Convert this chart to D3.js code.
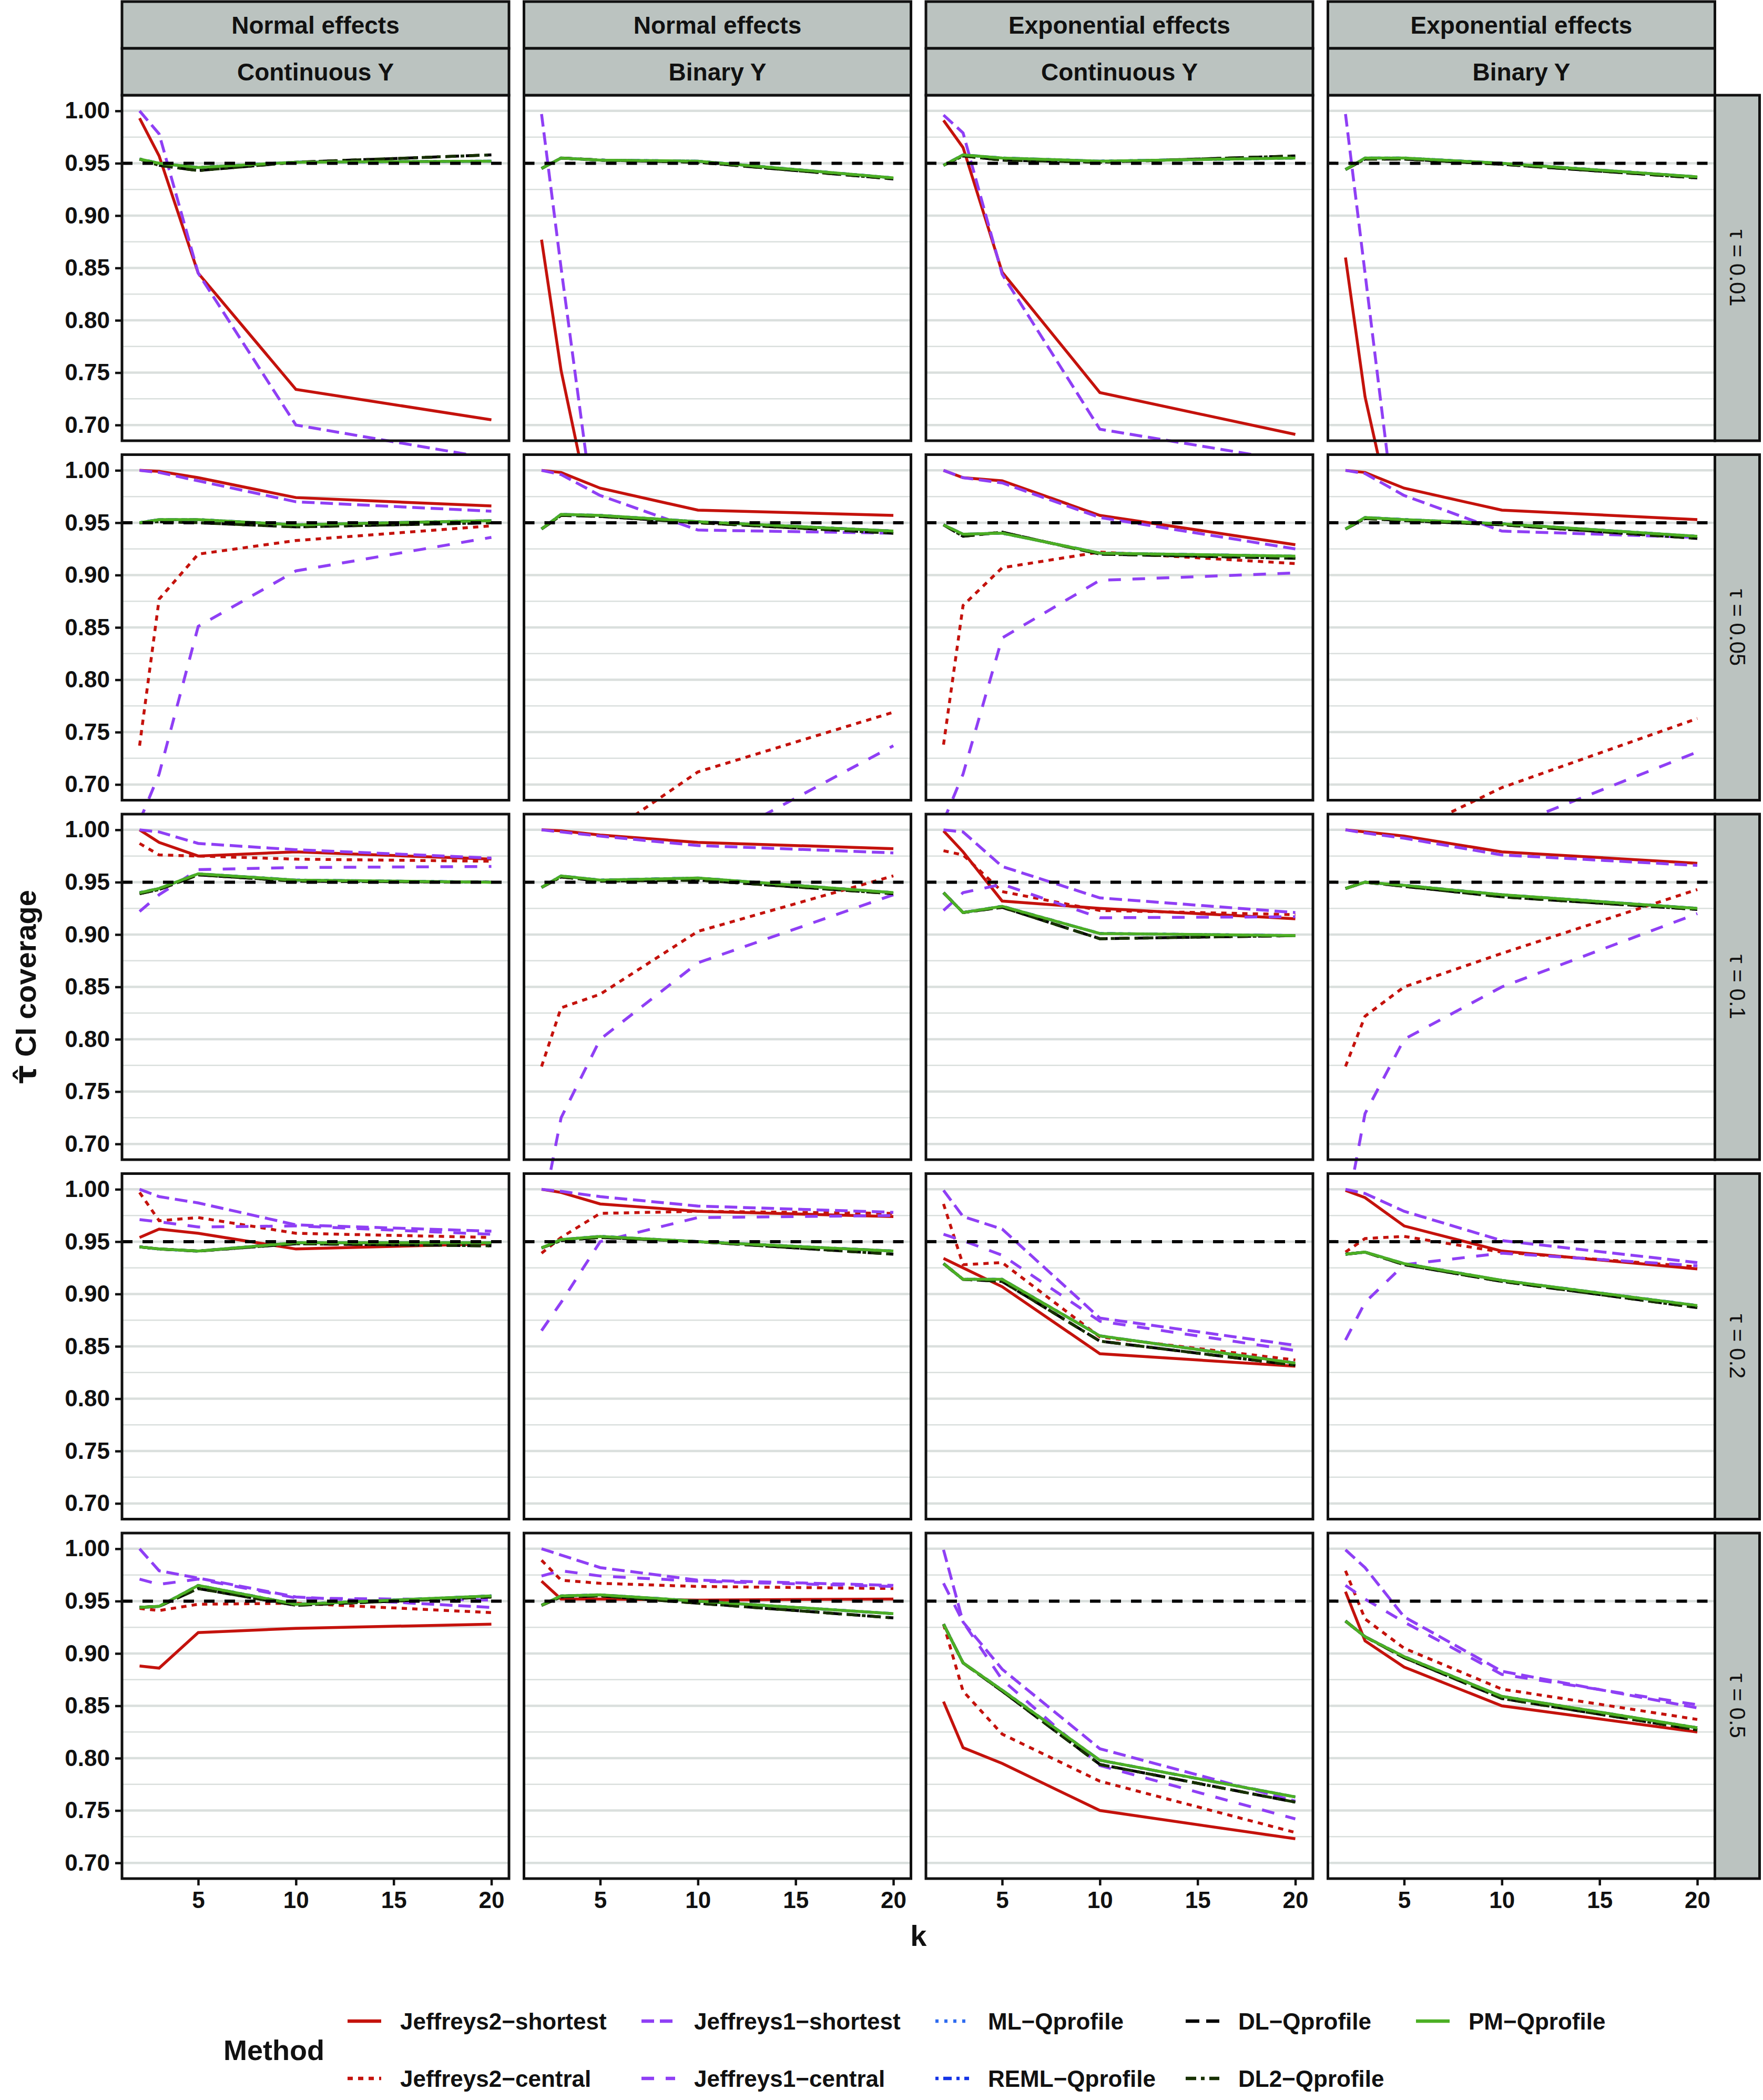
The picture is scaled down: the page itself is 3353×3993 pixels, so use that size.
<!DOCTYPE html>
<html>
<head>
<meta charset="utf-8">
<script src="https://cdn.jsdelivr.net/npm/d3@7"></script>
<style>
    body { margin: 0; background: #fff; }
    text { font-family: "Liberation Sans Narrow", "Arial Narrow", "Liberation Sans", Arial, sans-serif; font-weight: bold; fill: #111; }
</style>
</head>
<body>
<svg id="chart" width="3353" height="3993"></svg>
<script>
// ---- data ----
const kValues = [2, 3, 5, 10, 20]
const effectLabels = ["Normal effects", "Normal effects", "Exponential effects", "Exponential effects"]
const outcomeLabels = ["Continuous Y", "Binary Y", "Continuous Y", "Binary Y"]
const tauLabels = ["τ = 0.01", "τ = 0.05", "τ = 0.1", "τ = 0.2", "τ = 0.5"]
const methods = ["Jeffreys2−shortest", "Jeffreys2−central", "Jeffreys1−shortest", "Jeffreys1−central",
    "ML−Qprofile", "REML−Qprofile", "DL−Qprofile", "DL2−Qprofile", "PM−Qprofile"]
const yMajor = [0.70, 0.75, 0.80, 0.85, 0.90, 0.95, 1.00]
const yMinor = [0.725, 0.775, 0.825, 0.875, 0.925, 0.975]
const xTicks = [5, 10, 15, 20]
const nominal = 0.95

// each array: rows = tau, then the 4 columns, then one value per k (null = off the chart)
const jeffreys2Shortest = [
    [[0.993, 0.957, 0.845, 0.734, 0.705], [0.877, 0.752, 0.575, null, null], [0.991, 0.965, 0.846, 0.731, 0.691], [0.860, 0.727, 0.560, null, null]],
    [[1.000, 0.999, 0.993, 0.974, 0.966], [1.000, 0.998, 0.983, 0.962, 0.957], [1.000, 0.993, 0.990, 0.957, 0.929], [1.000, 0.998, 0.983, 0.962, 0.953]],
    [[1.000, 0.988, 0.975, 0.979, 0.972], [1.000, 0.999, 0.995, 0.988, 0.982], [0.999, 0.979, 0.932, 0.925, 0.915], [1.000, 0.998, 0.994, 0.979, 0.968]],
    [[0.954, 0.962, 0.958, 0.943, 0.948], [1.000, 0.997, 0.986, 0.979, 0.974], [0.934, 0.925, 0.907, 0.843, 0.831], [0.999, 0.992, 0.965, 0.941, 0.924]],
    [[0.888, 0.886, 0.920, 0.924, 0.928], [0.969, 0.952, 0.952, 0.951, 0.952], [0.854, 0.810, 0.795, 0.750, 0.723], [0.959, 0.912, 0.887, 0.850, 0.825]]
]
const jeffreys2Central = [
    [[null, null, null, null, null], [null, null, null, null, null], [null, null, null, null, null], [null, null, null, null, null]],
    [[0.737, 0.877, 0.920, 0.933, 0.947], [null, null, 0.648, 0.712, 0.769], [0.738, 0.871, 0.907, 0.922, 0.911], [null, null, 0.652, 0.697, 0.763]],
    [[0.987, 0.976, 0.975, 0.972, 0.970], [0.774, 0.830, 0.843, 0.903, 0.956], [0.980, 0.976, 0.941, 0.923, 0.919], [0.774, 0.822, 0.850, 0.882, 0.943]],
    [[0.997, 0.970, 0.973, 0.958, 0.954], [0.939, 0.954, 0.977, 0.979, 0.977], [0.986, 0.928, 0.930, 0.859, 0.837], [0.940, 0.953, 0.955, 0.940, 0.926]],
    [[0.943, 0.941, 0.947, 0.948, 0.939], [0.989, 0.970, 0.967, 0.964, 0.962], [0.928, 0.864, 0.823, 0.778, 0.729], [0.979, 0.933, 0.905, 0.866, 0.837]]
]
const jeffreys1Shortest = [
    [[1.000, 0.978, 0.845, 0.700, 0.668], [0.997, 0.850, 0.570, null, null], [0.996, 0.979, 0.844, 0.696, 0.665], [0.997, 0.845, 0.540, null, null]],
    [[1.000, 0.998, 0.990, 0.970, 0.961], [1.000, 0.996, 0.976, 0.943, 0.940], [1.000, 0.993, 0.988, 0.955, 0.925], [1.000, 0.997, 0.976, 0.942, 0.936]],
    [[1.000, 0.998, 0.987, 0.981, 0.973], [1.000, 0.998, 0.994, 0.985, 0.978], [1.000, 0.998, 0.965, 0.935, 0.921], [1.000, 0.997, 0.992, 0.976, 0.966]],
    [[1.000, 0.993, 0.987, 0.966, 0.960], [1.000, 0.998, 0.993, 0.984, 0.978], [0.999, 0.974, 0.962, 0.877, 0.851], [1.000, 0.996, 0.979, 0.951, 0.930]],
    [[1.000, 0.979, 0.972, 0.954, 0.944], [1.000, 0.994, 0.982, 0.970, 0.965], [0.999, 0.930, 0.885, 0.809, 0.759], [0.999, 0.982, 0.935, 0.883, 0.848]]
]
const jeffreys1Central = [
    [[null, null, null, null, null], [null, null, null, null, null], [null, null, null, null, null], [null, null, null, null, null]],
    [[0.665, 0.710, 0.851, 0.904, 0.936], [null, null, null, 0.637, 0.737], [0.665, 0.710, 0.840, 0.895, 0.902], [null, null, null, 0.657, 0.731]],
    [[0.922, 0.938, 0.962, 0.964, 0.965], [0.630, 0.725, 0.800, 0.873, 0.938], [0.923, 0.940, 0.948, 0.916, 0.917], [0.630, 0.729, 0.800, 0.850, 0.920]],
    [[0.971, 0.969, 0.964, 0.965, 0.957], [0.865, 0.892, 0.950, 0.973, 0.975], [0.957, 0.951, 0.937, 0.874, 0.846], [0.856, 0.892, 0.928, 0.939, 0.927]],
    [[0.971, 0.966, 0.971, 0.953, 0.951], [0.974, 0.979, 0.974, 0.969, 0.964], [0.967, 0.930, 0.875, 0.793, 0.742], [0.965, 0.952, 0.930, 0.880, 0.851]]
]
// the Q-profile lines sit on top of each other; ML/REML under PM, DL under DL2
const mlQprofile = [
    [[0.954, 0.950, 0.946, 0.951, 0.952], [0.945, 0.955, 0.953, 0.952, 0.936], [0.948, 0.958, 0.955, 0.952, 0.955], [0.944, 0.955, 0.955, 0.950, 0.937]],
    [[0.950, 0.953, 0.953, 0.948, 0.952], [0.944, 0.958, 0.957, 0.951, 0.942], [0.948, 0.939, 0.940, 0.921, 0.918], [0.944, 0.955, 0.953, 0.949, 0.937]],
    [[0.940, 0.944, 0.958, 0.952, 0.950], [0.945, 0.956, 0.952, 0.954, 0.940], [0.940, 0.921, 0.927, 0.901, 0.899], [0.944, 0.950, 0.947, 0.938, 0.925]],
    [[0.945, 0.943, 0.941, 0.949, 0.949], [0.944, 0.952, 0.955, 0.950, 0.941], [0.929, 0.914, 0.914, 0.860, 0.834], [0.938, 0.940, 0.929, 0.913, 0.889]],
    [[0.944, 0.945, 0.965, 0.947, 0.955], [0.946, 0.955, 0.956, 0.950, 0.938], [0.928, 0.891, 0.865, 0.798, 0.763], [0.931, 0.916, 0.897, 0.859, 0.829]]
]
const remlQprofile = [
    [[0.954, 0.950, 0.946, 0.951, 0.952], [0.945, 0.955, 0.953, 0.952, 0.936], [0.948, 0.958, 0.955, 0.952, 0.955], [0.944, 0.955, 0.955, 0.950, 0.937]],
    [[0.950, 0.953, 0.953, 0.948, 0.952], [0.944, 0.958, 0.957, 0.951, 0.942], [0.948, 0.939, 0.940, 0.921, 0.918], [0.944, 0.955, 0.953, 0.949, 0.937]],
    [[0.940, 0.944, 0.958, 0.952, 0.950], [0.945, 0.956, 0.952, 0.954, 0.940], [0.940, 0.921, 0.927, 0.901, 0.899], [0.944, 0.950, 0.947, 0.938, 0.925]],
    [[0.945, 0.943, 0.941, 0.949, 0.949], [0.944, 0.952, 0.955, 0.950, 0.941], [0.929, 0.914, 0.914, 0.860, 0.834], [0.938, 0.940, 0.929, 0.913, 0.889]],
    [[0.944, 0.945, 0.965, 0.947, 0.955], [0.946, 0.955, 0.956, 0.950, 0.938], [0.928, 0.891, 0.865, 0.798, 0.763], [0.931, 0.916, 0.897, 0.859, 0.829]]
]
const dlQprofile = [
    [[0.954, 0.948, 0.943, 0.951, 0.958], [0.945, 0.955, 0.953, 0.951, 0.935], [0.948, 0.957, 0.953, 0.951, 0.957], [0.944, 0.954, 0.954, 0.949, 0.936]],
    [[0.950, 0.951, 0.950, 0.946, 0.950], [0.944, 0.957, 0.956, 0.950, 0.940], [0.948, 0.937, 0.941, 0.920, 0.916], [0.944, 0.954, 0.952, 0.948, 0.935]],
    [[0.939, 0.943, 0.957, 0.951, 0.950], [0.945, 0.955, 0.951, 0.952, 0.939], [0.940, 0.921, 0.926, 0.896, 0.899], [0.944, 0.950, 0.946, 0.936, 0.924]],
    [[0.945, 0.943, 0.941, 0.948, 0.946], [0.944, 0.951, 0.954, 0.950, 0.938], [0.929, 0.914, 0.912, 0.855, 0.832], [0.938, 0.940, 0.928, 0.912, 0.887]],
    [[0.944, 0.945, 0.962, 0.946, 0.954], [0.946, 0.954, 0.955, 0.948, 0.934], [0.928, 0.891, 0.864, 0.794, 0.758], [0.931, 0.916, 0.896, 0.857, 0.827]]
]
const dl2Qprofile = [
    [[0.954, 0.948, 0.943, 0.951, 0.958], [0.945, 0.955, 0.953, 0.951, 0.935], [0.948, 0.957, 0.953, 0.951, 0.957], [0.944, 0.954, 0.954, 0.949, 0.936]],
    [[0.950, 0.951, 0.950, 0.946, 0.950], [0.944, 0.957, 0.956, 0.950, 0.940], [0.948, 0.937, 0.941, 0.920, 0.916], [0.944, 0.954, 0.952, 0.948, 0.935]],
    [[0.939, 0.943, 0.957, 0.951, 0.950], [0.945, 0.955, 0.951, 0.952, 0.939], [0.940, 0.921, 0.926, 0.896, 0.899], [0.944, 0.950, 0.946, 0.936, 0.924]],
    [[0.945, 0.943, 0.941, 0.948, 0.946], [0.944, 0.951, 0.954, 0.950, 0.938], [0.929, 0.914, 0.912, 0.855, 0.832], [0.938, 0.940, 0.928, 0.912, 0.887]],
    [[0.944, 0.945, 0.962, 0.946, 0.954], [0.946, 0.954, 0.955, 0.948, 0.934], [0.928, 0.891, 0.864, 0.794, 0.758], [0.931, 0.916, 0.896, 0.857, 0.827]]
]
const pmQprofile = [
    [[0.954, 0.950, 0.946, 0.951, 0.952], [0.945, 0.955, 0.953, 0.952, 0.936], [0.948, 0.958, 0.955, 0.952, 0.955], [0.944, 0.955, 0.955, 0.950, 0.937]],
    [[0.950, 0.953, 0.953, 0.948, 0.952], [0.944, 0.958, 0.957, 0.951, 0.942], [0.948, 0.939, 0.940, 0.921, 0.918], [0.944, 0.955, 0.953, 0.949, 0.937]],
    [[0.940, 0.944, 0.958, 0.952, 0.950], [0.945, 0.956, 0.952, 0.954, 0.940], [0.940, 0.921, 0.927, 0.901, 0.899], [0.944, 0.950, 0.947, 0.938, 0.925]],
    [[0.945, 0.943, 0.941, 0.949, 0.949], [0.944, 0.952, 0.955, 0.950, 0.941], [0.929, 0.914, 0.914, 0.860, 0.834], [0.938, 0.940, 0.929, 0.913, 0.889]],
    [[0.944, 0.945, 0.965, 0.947, 0.955], [0.946, 0.955, 0.956, 0.950, 0.938], [0.928, 0.891, 0.865, 0.798, 0.763], [0.931, 0.916, 0.897, 0.859, 0.829]]
]

// ---- styles ----
const methodValues = [jeffreys2Shortest, jeffreys2Central, jeffreys1Shortest, jeffreys1Central,
    mlQprofile, remlQprofile, dlQprofile, dl2Qprofile, pmQprofile]
const methodColors = ["#c4120c", "#c4120c", "#8f3ff5", "#8f3ff5", "#2f6cf0", "#1434e6", "#000000", "#173000", "#4caf24"]
const methodDash = [null, "10,10", "24,11", "24,22", "6,11", "6,9,16,9", "26,13", "20,9,7,9", null]
const lineWidth = 5.5

const svg = d3.select("#chart")
const panelW = 736, panelH = 657
const panelX = [232, 996.5, 1761, 2525.5]
const panelY = [181, 864.5, 1548, 2231.5, 2915]
const stripH = 89, sideStripW = 85
const gridColor = "#dadfdd", stripFill = "#bbc3c0"

const x = d3.scaleLinear().domain([1.1, 20.9]).range([0, panelW])
const y = d3.scaleLinear().domain([0.685, 1.015]).range([panelH, 0])

const line = d3.line()
    .defined(d => d[1] != null)
    .x(d => x(d[0]))
    .y(d => y(d[1]))

// panels in row order, lines not clipped (later panels cover what runs out the bottom)
tauLabels.forEach((tau, r) => {
    outcomeLabels.forEach((out, c) => {
        let g = svg.append("g").attr("transform", `translate(${panelX[c]},${panelY[r]})`)
        g.append("rect").attr("width", panelW).attr("height", panelH).attr("fill", "#fff")

        g.selectAll(".minor").data(yMinor).join("line")
            .attr("x1", 0).attr("x2", panelW)
            .attr("y1", d => y(d)).attr("y2", d => y(d))
            .attr("stroke", gridColor).attr("stroke-width", 2.5)
        g.selectAll(".major").data(yMajor).join("line")
            .attr("x1", 0).attr("x2", panelW)
            .attr("y1", d => y(d)).attr("y2", d => y(d))
            .attr("stroke", gridColor).attr("stroke-width", 4.5)

        methodValues.forEach((vals, m) => {
            let pts = kValues.map((k, i) => [k, vals[r][c][i]])
            g.append("path")
                .attr("d", line(pts))
                .attr("fill", "none")
                .attr("stroke", methodColors[m])
                .attr("stroke-width", lineWidth)
                .attr("stroke-dasharray", methodDash[m])
        })

        g.append("line")
            .attr("x1", 0).attr("x2", panelW)
            .attr("y1", y(nominal)).attr("y2", y(nominal))
            .attr("stroke", "#000").attr("stroke-width", 6)
            .attr("stroke-dasharray", "20,19")

        g.append("rect").attr("width", panelW).attr("height", panelH)
            .attr("fill", "none").attr("stroke", "#111").attr("stroke-width", 5)
    })
})

// top strips
outcomeLabels.forEach((out, c) => {
    let g = svg.append("g").attr("transform", `translate(${panelX[c]},0)`)
    g.append("rect").attr("y", 3).attr("width", panelW).attr("height", stripH)
        .attr("fill", stripFill).attr("stroke", "#111").attr("stroke-width", 5)
    g.append("rect").attr("y", 3 + stripH).attr("width", panelW).attr("height", stripH)
        .attr("fill", stripFill).attr("stroke", "#111").attr("stroke-width", 5)
    g.append("text").attr("x", panelW / 2).attr("y", 3 + stripH / 2)
        .attr("text-anchor", "middle").attr("dominant-baseline", "central")
        .attr("font-size", 46).text(effectLabels[c])
    g.append("text").attr("x", panelW / 2).attr("y", 3 + stripH * 1.5)
        .attr("text-anchor", "middle").attr("dominant-baseline", "central")
        .attr("font-size", 46).text(out)
})

// side strips
tauLabels.forEach((tau, r) => {
    let sx = panelX[3] + panelW
    let g = svg.append("g").attr("transform", `translate(${sx},${panelY[r]})`)
    g.append("rect").attr("width", sideStripW).attr("height", panelH)
        .attr("fill", stripFill).attr("stroke", "#111").attr("stroke-width", 5)
    g.append("text")
        .attr("transform", `translate(${sideStripW / 2},${panelH / 2}) rotate(90)`)
        .attr("text-anchor", "middle").attr("dominant-baseline", "central")
        .attr("font-size", 42).style("font-weight", "normal")
        .style("font-family", "'Liberation Sans', Arial, sans-serif")
        .text(tau)
})

// y axes (first column only)
panelY.forEach(py => {
    let ax = svg.append("g").attr("transform", `translate(${panelX[0]},${py})`)
        .call(d3.axisLeft(y).tickValues(yMajor).tickSize(13).tickPadding(10).tickFormat(d3.format(".2f")))
    ax.select(".domain").remove()
    ax.selectAll(".tick line").attr("stroke", "#111").attr("stroke-width", 4.5)
    ax.selectAll(".tick text").attr("font-size", 44).attr("fill", "#111")
})

// x axes (bottom row only)
panelX.forEach(px => {
    let ax = svg.append("g").attr("transform", `translate(${px},${panelY[4] + panelH})`)
        .call(d3.axisBottom(x).tickValues(xTicks).tickSize(13).tickPadding(12))
    ax.select(".domain").remove()
    ax.selectAll(".tick line").attr("stroke", "#111").attr("stroke-width", 4.5)
    ax.selectAll(".tick text").attr("font-size", 44).attr("fill", "#111")
})

// axis titles
svg.append("text").attr("x", panelX[0] + (panelX[3] + panelW - panelX[0]) / 2).attr("y", 3700)
    .attr("text-anchor", "middle").attr("font-size", 56).text("k")
let yTitle = svg.append("text")
    .attr("transform", `translate(68,${panelY[0] + (panelY[4] + panelH - panelY[0]) / 2}) rotate(-90)`)
    .attr("text-anchor", "middle").attr("font-size", 56)
yTitle.append("tspan").style("font-family", "'DejaVu Sans', sans-serif").text("τ\u0302")
yTitle.append("tspan").text(" CI coverage")

// legend
const legendColX = [661, 1220, 1779, 2255, 2693]
const legendRowY = [3843, 3952]
svg.append("text").attr("x", 425).attr("y", 3898).attr("dominant-baseline", "central")
    .attr("font-size", 54).text("Method")
methods.forEach((name, m) => {
    let lx = legendColX[Math.floor(m / 2)], ly = legendRowY[m % 2]
    svg.append("line").attr("x1", lx).attr("x2", lx + 64).attr("y1", ly).attr("y2", ly)
        .attr("stroke", methodColors[m]).attr("stroke-width", lineWidth + 1)
        .attr("stroke-dasharray", methodDash[m])
    svg.append("text").attr("x", lx + 100).attr("y", ly).attr("dominant-baseline", "central")
        .attr("font-size", 44).text(name)
})
</script>
</body>
</html>
